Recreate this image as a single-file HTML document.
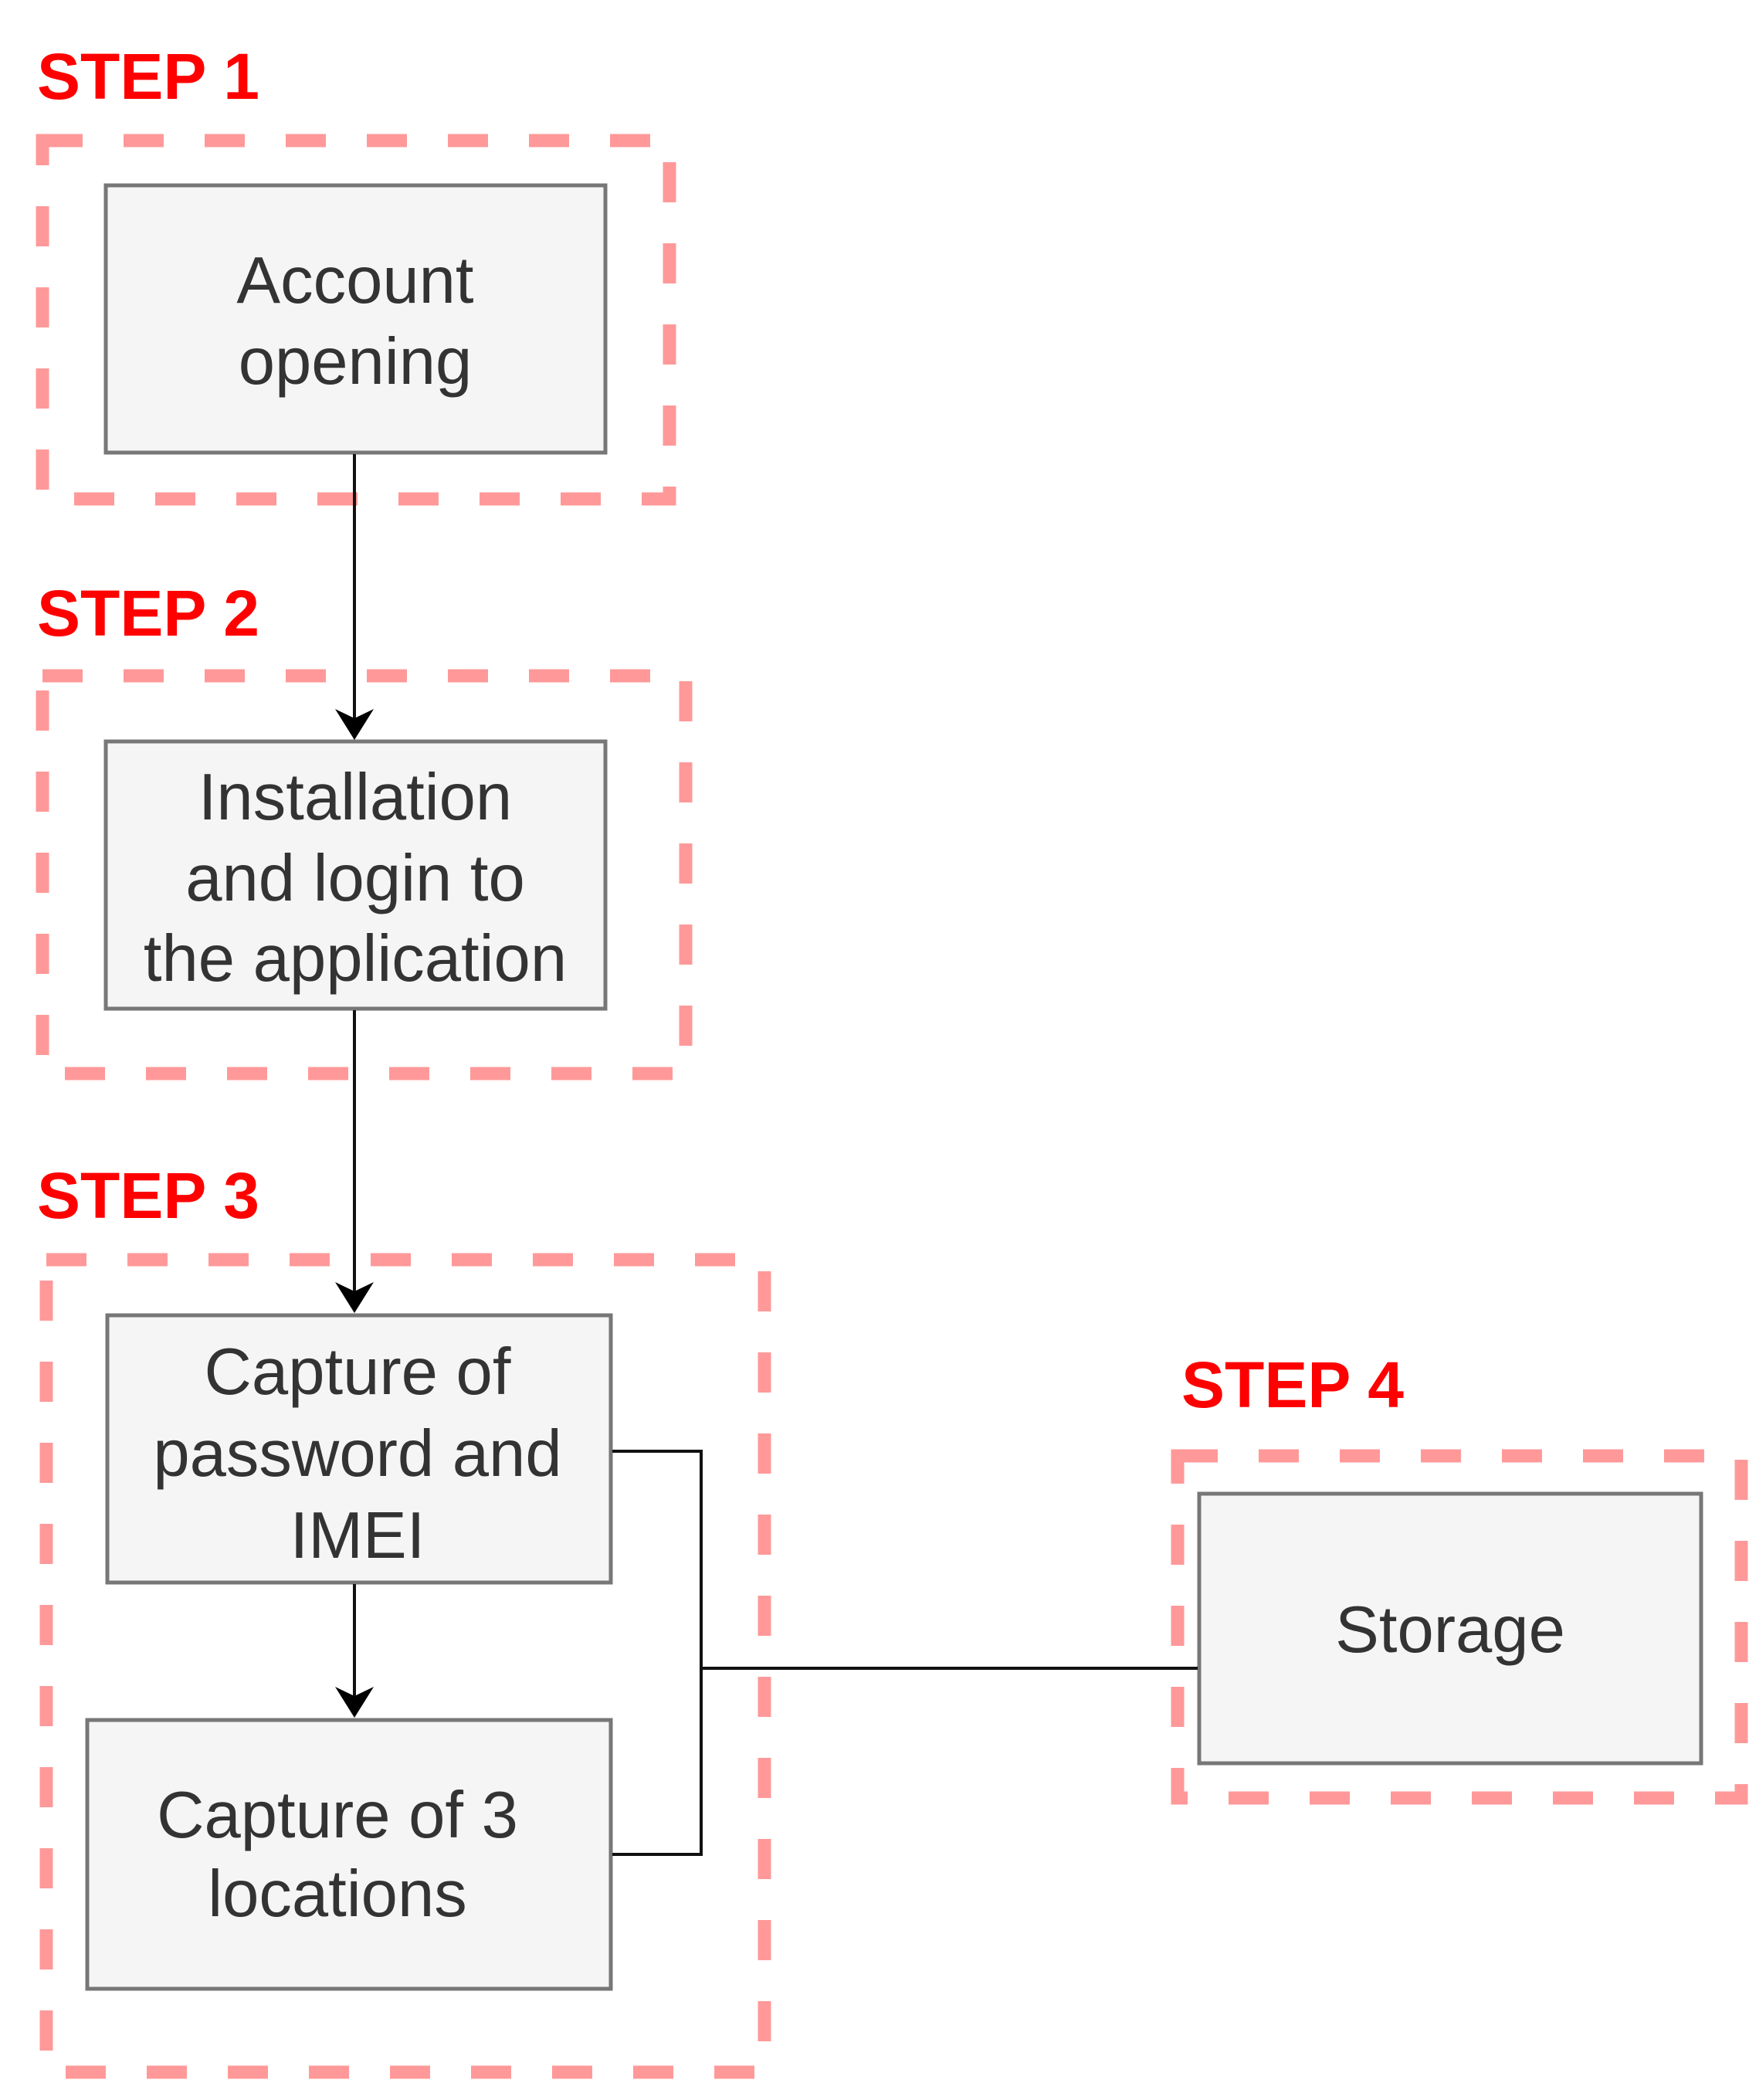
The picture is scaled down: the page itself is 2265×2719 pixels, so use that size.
<!DOCTYPE html>
<html><head><meta charset="utf-8"><style>html,body{margin:0;padding:0;background:#fff}svg{display:block}</style></head>
<body>
<svg width="2265" height="2719" viewBox="0 0 2265 2719" xmlns="http://www.w3.org/2000/svg" font-family="Liberation Sans, Arial, sans-serif">
<g fill="none" stroke="#FF9999" stroke-width="17" stroke-dasharray="52 53">
<rect x="55" y="182" width="812" height="464"/>
<rect x="55" y="875" width="833" height="515"/>
<rect x="60" y="1631" width="930" height="1052"/>
<rect x="1525" y="1885" width="730" height="443"/>
</g>
<g font-weight="bold" fill="#FF0000" font-size="84">
<text x="48" y="128">STEP 1</text>
<text x="48" y="823">STEP 2</text>
<text x="48" y="1577">STEP 3</text>
<text x="1530" y="1822">STEP 4</text>
</g>
<g fill="#F5F5F5" stroke="#777" stroke-width="5">
<rect x="137" y="240" width="647" height="346"/>
<rect x="137" y="960" width="647" height="346"/>
<rect x="139" y="1703" width="652" height="346"/>
<rect x="113" y="2227" width="678" height="348"/>
<rect x="1553" y="1934" width="650" height="349"/>
</g>
<g stroke="#111" stroke-width="4" fill="none">
<line x1="459" y1="588" x2="459" y2="935"/>
<line x1="459" y1="1308" x2="459" y2="1678"/>
<line x1="459" y1="2051" x2="459" y2="2202"/>
<polyline points="793,1879 908,1879 908,2401 793,2401"/>
<line x1="908" y1="2160" x2="1551" y2="2160"/>
</g>
<g fill="#000">
<path d="M434,918 L459,930 L484,918 L459,958 Z"/>
<path d="M434,1660 L459,1672 L484,1660 L459,1700 Z"/>
<path d="M434,2184 L459,2196 L484,2184 L459,2224 Z"/>
</g>
<g fill="#333" font-size="85" text-anchor="middle">
<text x="460" y="392">Account</text>
<text x="460" y="497">opening</text>
<text x="460" y="1061">Installation</text>
<text x="460" y="1166">and login to</text>
<text x="460" y="1270">the application</text>
<text x="463" y="1805">Capture of</text>
<text x="463" y="1911">password and</text>
<text x="463" y="2017">IMEI</text>
<text x="437" y="2379">Capture of 3</text>
<text x="437" y="2481">locations</text>
<text x="1878" y="2139">Storage</text>
</g>
</svg>
</body></html>
